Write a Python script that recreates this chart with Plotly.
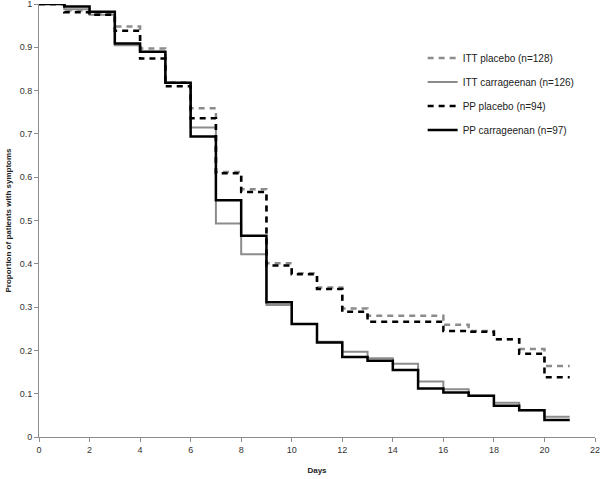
import plotly.graph_objects as go

days = list(range(0, 22))
# survival proportion for each interval [d, d+1), d = 0..20 (last value repeated at day 21)
itt_placebo = [1.0, 0.985, 0.978, 0.948, 0.897, 0.819, 0.759, 0.612, 0.572, 0.401, 0.378,
               0.345, 0.297, 0.280, 0.280, 0.280, 0.259, 0.245, 0.226, 0.203, 0.164]
itt_carrageenan = [1.0, 0.988, 0.975, 0.905, 0.890, 0.818, 0.715, 0.493, 0.422, 0.305, 0.261,
                   0.220, 0.197, 0.182, 0.169, 0.128, 0.110, 0.095, 0.079, 0.062, 0.047]
pp_placebo = [1.0, 0.981, 0.975, 0.938, 0.874, 0.810, 0.736, 0.609, 0.566, 0.396, 0.376,
              0.342, 0.289, 0.266, 0.266, 0.266, 0.245, 0.243, 0.226, 0.192, 0.138]
pp_carrageenan = [1.0, 0.994, 0.982, 0.909, 0.890, 0.818, 0.694, 0.547, 0.465, 0.311, 0.261,
                  0.218, 0.185, 0.176, 0.155, 0.112, 0.103, 0.095, 0.072, 0.062, 0.039]
x_ticks = [0, 2, 4, 6, 8, 10, 12, 14, 16, 18, 20, 22]

names = ["ITT placebo (n=128)", "ITT carrageenan (n=126)",
         "PP placebo (n=94)", "PP carrageenan (n=97)"]
series = [itt_placebo, itt_carrageenan, pp_placebo, pp_carrageenan]
styles = [
    dict(color="#8c8c8c", width=2.5, dash="6px,5px"),
    dict(color="#8c8c8c", width=2, dash="solid"),
    dict(color="#000000", width=2.5, dash="6px,5px"),
    dict(color="#000000", width=2.5, dash="solid"),
]

fig = go.Figure()
for i, (name, vals, st) in enumerate(zip(names, series, styles)):
    fig.add_trace(go.Scatter(
        x=days, y=vals + [vals[-1]], mode="lines", name=name,
        line=dict(shape="hv", **st), cliponaxis=False,
        legendgroup=str(i),
    ))

axis_font = dict(family="Liberation Sans", size=9, color="#333333")
fig.update_layout(
    width=600, height=479,
    margin=dict(l=39, r=5, t=4, b=42),
    plot_bgcolor="white", paper_bgcolor="white",
    showlegend=True,
    legend=dict(x=0.69, y=0.909, xanchor="left", yanchor="top",
                font=dict(family="Liberation Sans", size=10, color="#222222"),
                tracegroupgap=5, bgcolor="rgba(0,0,0,0)"),
    xaxis=dict(range=[0, 22], tickmode="array", tickvals=x_ticks,
               ticktext=[str(t) for t in x_ticks],
               showgrid=False, zeroline=False,
               showline=True, linecolor="#8c8c8c", linewidth=1,
               ticks="outside", ticklen=4, tickcolor="#8c8c8c",
               tickfont=axis_font, automargin=False, ticklabeloverflow="allow",
               title=dict(text="<b>Days</b>", font=dict(family="Liberation Sans", size=8, color="#222222"),
                          standoff=13)),
    yaxis=dict(range=[0, 1], tick0=0, dtick=0.1, showgrid=False, zeroline=False,
               showline=True, linecolor="#8c8c8c", linewidth=1,
               ticks="outside", ticklen=4, tickcolor="#8c8c8c",
               tickfont=axis_font, automargin=False, ticklabeloverflow="allow",
               title=dict(text="<b>Proportion of patients with symptoms</b>",
                          font=dict(family="Liberation Sans", size=8, color="#222222"),
                          standoff=6)),
)

fig.write_html("out.html", config={"displayModeBar": False},
               post_script="document.body.style.margin='0';")
